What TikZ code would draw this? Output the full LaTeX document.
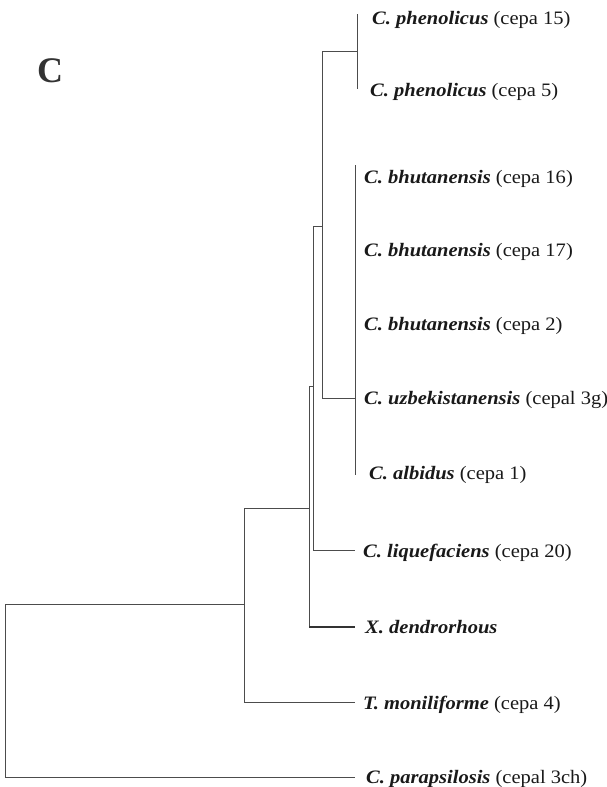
\documentclass[tikz,border=0pt]{standalone}
\usepackage{fontspec}
\setmainfont{Liberation Serif}
\newfontfamily\taxfont[FakeStretch=1.08]{Liberation Serif}
\begin{document}
\begin{tikzpicture}[x=1pt,y=-1pt,
  branch/.style={draw=black!70, line width=1pt},
  thickbranch/.style={draw=black!80, line width=1.8pt},
  taxon/.style={anchor=base west, inner sep=0pt, font=\taxfont\fontsize{19}{19}\selectfont, text=black!90},
  panel/.style={anchor=base west, inner sep=0pt, font=\fontsize{36}{36}\selectfont\bfseries, text=black!80}]
\useasboundingbox (0,0) rectangle (607,787);
\newcommand{\spn}[1]{\textbf{\textit{#1}}}
\node[panel] (lab) at (37,82) {C};
% taxa
\node[taxon] (t1) at (372,24) {\spn{C. phenolicus} (cepa 15)};
\node[taxon] (t2) at (370,96) {\spn{C. phenolicus} (cepa 5)};
\node[taxon] (t3) at (364,183) {\spn{C. bhutanensis} (cepa 16)};
\node[taxon] (t4) at (364,256) {\spn{C. bhutanensis} (cepa 17)};
\node[taxon] (t5) at (364,330) {\spn{C. bhutanensis} (cepa 2)};
\node[taxon] (t6) at (364,404) {\spn{C. uzbekistanensis} (cepal 3g)};
\node[taxon] (t7) at (369,479) {\spn{C. albidus} (cepa 1)};
\node[taxon] (t8) at (363,557) {\spn{C. liquefaciens} (cepa 20)};
\node[taxon] (t9) at (365,633) {\spn{X. dendrorhous}};
\node[taxon] (t10) at (363,709) {\spn{T. moniliforme} (cepa 4)};
\node[taxon] (t11) at (366,783) {\spn{C. parapsilosis} (cepal 3ch)};
% tree coordinates
\coordinate (rootA) at (5,604);
\coordinate (rootB) at (5,777);
\coordinate (n4) at (244,604);
\coordinate (n4a) at (244,508);
\coordinate (n4b) at (244,702);
\coordinate (n3) at (309,508);
\coordinate (n3a) at (309,386);
\coordinate (n3b) at (309,627);
\coordinate (n2) at (313,386);
\coordinate (n2a) at (313,226);
\coordinate (n2b) at (313,550);
\coordinate (n1) at (322,226);
\coordinate (n1a) at (322,51);
\coordinate (n1b) at (322,398);
\coordinate (pA) at (357,14);
\coordinate (pB) at (357,89);
\coordinate (pm) at (357,51);
\coordinate (bA) at (355,165);
\coordinate (bB) at (355,475);
\coordinate (bm) at (355,398);
\coordinate (e8) at (355,550);
\coordinate (e9) at (355,627);
\coordinate (e10) at (355,702);
\coordinate (e11) at (355,777);
% branches
\draw[branch] (n4) -- (rootA) -- (rootB) -- (e11);
\draw[branch] (n3) -- (n4a) -- (n4b) -- (e10);
\draw[branch] (n2) -- (n3a) -- (n3b);
\draw[thickbranch] (n3b) -- (e9);
\draw[branch] (n1) -- (n2a) -- (n2b) -- (e8);
\draw[branch] (pm) -- (n1a) -- (n1b) -- (bm);
\draw[branch] (pA) -- (pB);
\draw[branch] (bA) -- (bB);
\end{tikzpicture}
\end{document}
